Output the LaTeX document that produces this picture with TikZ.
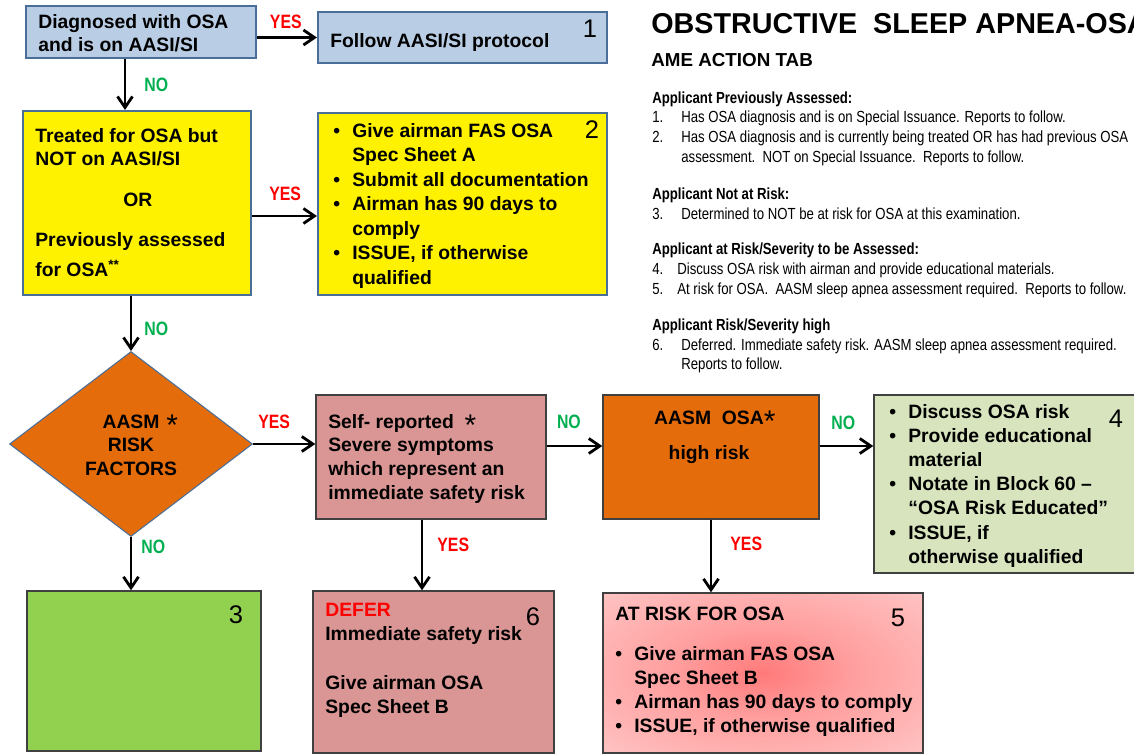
\documentclass[tikz,border=0pt]{standalone}
\usepackage{fontspec}
\setmainfont{Liberation Sans}
\newfontfamily\narrowfont[FakeStretch=0.82]{Liberation Sans}
\usetikzlibrary{arrows.meta,fit,shapes.geometric}

\definecolor{aasiblue}{HTML}{B9CDE5}
\definecolor{aasiedge}{HTML}{4A6E9A}
\definecolor{riskorange}{HTML}{E46C0A}
\definecolor{deferrose}{HTML}{D99694}
\definecolor{edusage}{HTML}{D7E4BD}
\definecolor{clearlime}{HTML}{92D050}
\definecolor{yesred}{HTML}{FF0000}
\definecolor{nogreen}{HTML}{00B050}
\definecolor{boxedge}{HTML}{404040}
\definecolor{glowcore}{HTML}{FF7A7A}
\definecolor{glowmid}{HTML}{FF9E9E}
\definecolor{glowedge}{HTML}{FFDCDC}
\pgfdeclareradialshading{atriskglow}{\pgfpointorigin}{color(0bp)=(glowcore); color(14bp)=(glowmid); color(50bp)=(glowedge)}

\newcommand{\boxlines}[2][l]{\begin{tabular}[t]{@{}#1@{}}#2\end{tabular}}
\newcommand{\dotitem}{\makebox[0.38cm][l]{\textbullet}}
\newcommand{\dotgap}{\hspace*{0.38cm}}
\newcommand{\noteno}[2][0.58cm]{\makebox[#1][l]{#2}}
\newcommand{\riskmark}{\raisebox{-0.14cm}{\mdseries\fontsize{17}{17}\selectfont *}}

\tikzset{
	flowbox/.style={draw=boxedge, line width=0.8pt, inner sep=0pt},
	aasibox/.style={flowbox, draw=aasiedge, line width=1.2pt, fill=aasiblue},
	treatbox/.style={flowbox, draw=aasiedge, line width=1.2pt, fill=yellow},
	riskdiamond/.style={diamond, draw=aasiedge, line width=0.6pt, fill=riskorange, inner sep=0pt, minimum width=4.86cm, minimum height=3.7cm},
	boxtxt/.style={font=\fontsize{11}{13.6}\selectfont\bfseries, inner sep=0pt, anchor=base west},
	notetxt/.style={font=\narrowfont\fontsize{9.15}{11.3}\selectfont, inner sep=0pt, anchor=base west},
	blockno/.style={font=\fontsize{14.5}{14.5}\selectfont, inner sep=0pt},
	yeslbl/.style={font=\narrowfont\bfseries\fontsize{11}{11}\selectfont, text=yesred, inner sep=0pt},
	nolbl/.style={font=\narrowfont\bfseries\fontsize{11}{11}\selectfont, text=nogreen, inner sep=0pt},
	link/.style={draw=black, line width=1.6pt, -{Straight Barb[length=0.22cm, width=0.3cm]}}
}

\begin{document}
\begin{tikzpicture}[x=0.02cm, y=-0.02cm]
			%%%%% START %%%%%
			\useasboundingbox (0, 0) rectangle (1134, 754);
			\clip (0, 0) rectangle (1134, 754);
			\fill[white] (0, 0) rectangle (1134, 754);
			
			\node[aasibox, fit={(26, 6) (256, 58)}] (diag) {};
			\node[aasibox, fit={(318, 12) (607, 63)}] (follow) {};
			\node[treatbox, fit={(23, 111) (251, 295)}] (treated) {};
			\node[treatbox, fit={(318, 113) (607, 295)}] (spec) {};
			\node[riskdiamond] (risk) at (131, 444) {};
			\node[flowbox, fill=deferrose, fit={(316, 395) (546, 519)}] (self) {};
			\node[flowbox, fill=riskorange, fit={(603, 395) (819, 519)}] (osa) {};
			\node[flowbox, fill=edusage, fit={(874, 395) (1140, 573)}] (edu) {};
			\node[flowbox, fill=clearlime, fit={(27, 591) (261, 751)}] (none) {};
			\node[flowbox, fill=deferrose, fit={(313, 591) (554, 753)}] (defer) {};
			\node[flowbox, shading=atriskglow, fit={(603, 593) (923, 753)}] (atrisk) {};
			
			\node[blockno] (blk1) at (590, 29) {1};
			\node[blockno] (blk2) at (592, 130) {2};
			\node[blockno] (blk3) at (236, 615) {3};
			\node[blockno] (blk4) at (1116, 419) {4};
			\node[blockno] (blk5) at (898, 618) {5};
			\node[blockno] (blk6) at (533, 617) {6};
			
			\node[boxtxt] (tdiag) at (38, 28) {\boxlines{Diagnosed with OSA\\and is on AASI/SI}};
			\node[boxtxt] (tfollow) at (330, 47) {Follow AASI/SI protocol};
			\node[boxtxt] (ttreated) at (35, 142) {\boxlines{Treated for OSA but\\NOT on AASI/SI\\[9.6pt]\hspace*{1.76cm}OR\\[9pt]Previously assessed\\[3.4pt]for OSA\textsuperscript{**}}};
			\node[boxtxt, font=\fontsize{11}{14}\selectfont\bfseries] (tspec) at (333, 137) {\boxlines{\dotitem Give airman FAS OSA\\\dotgap Spec Sheet A\\\dotitem Submit all documentation\\\dotitem Airman has 90 days to\\\dotgap comply\\\dotitem ISSUE, if otherwise\\\dotgap qualified}};
			\node[boxtxt, anchor=base] (trisk) at (131, 428) {\boxlines[c]{AASM\rlap{\hspace{0.14cm}\riskmark}\\RISK\\FACTORS}};
			\node[boxtxt] (tself) at (328, 428) {\boxlines{Self- reported\ \ \riskmark\\Severe symptoms\\which represent an\\immediate safety risk}};
			\node[boxtxt, anchor=base] (tosa) at (709, 424) {\boxlines[c]{AASM\ \ OSA\rlap{\riskmark}\\[6.8pt]high risk}};
			\node[boxtxt, font=\fontsize{11}{13.8}\selectfont\bfseries] (tedu) at (889, 418) {\boxlines{\dotitem Discuss OSA risk\\\dotitem Provide educational\\\dotgap material\\\dotitem Notate in Block 60 –\\\dotgap “OSA Risk Educated”\\\dotitem ISSUE, if\\\dotgap otherwise qualified}};
			\node[boxtxt, font=\fontsize{11}{13.9}\selectfont\bfseries] (tdefer) at (325, 616) {\boxlines{\textcolor{yesred}{DEFER}\\Immediate safety risk\\\\Give airman OSA\\Spec Sheet B}};
			\node[boxtxt] (tatrisk) at (615, 620) {\boxlines{AT RISK FOR OSA\\[9.6pt]\dotitem Give airman FAS OSA\\\dotgap Spec Sheet B\\\dotitem Airman has 90 days to comply\\\dotitem ISSUE, if otherwise qualified}};
			
			\draw[link] (diag.east |- follow.west) -- (follow.west) node[yeslbl, pos=.48, above=0.15cm] (yesfollow) {YES};
			\draw[link] ([xshift=-0.32cm]diag.south) -- ([xshift=-0.32cm]diag.south |- treated.north) node[nolbl, pos=.51, right=0.36cm] (notreated) {NO};
			\draw[link] ([yshift=-0.26cm]treated.east) -- ([yshift=-0.26cm]treated.east -| spec.west) node[yeslbl, pos=.51, above=0.27cm] (yesspec) {YES};
			\draw[link] (risk.north |- treated.south) -- (risk.north) node[nolbl, pos=.59, right=0.24cm] (norisk) {NO};
			\draw[link] (risk.east) -- (risk.east -| self.west) node[yeslbl, pos=.34, above=0.28cm] (yesself) {YES};
			\draw[link] ([yshift=0.22cm]self.east) -- ([yshift=0.22cm]osa.west) node[nolbl, pos=.4, above=0.32cm] (noosa) {NO};
			\draw[link] ([yshift=0.22cm]osa.east) -- ([yshift=0.22cm]osa.east -| edu.west) node[nolbl, pos=.44, above=0.3cm] (noedu) {NO};
			\draw[link] (risk.south) -- (risk.south |- none.north) node[nolbl, pos=.18, right=0.18cm] (nonone) {NO};
			\draw[link] ([xshift=-0.18cm]self.south) -- ([xshift=-0.18cm]self.south |- defer.north) node[yeslbl, pos=.36, right=0.28cm] (yesdefer) {YES};
			\draw[link] (osa.south) -- (osa.south |- atrisk.north) node[yeslbl, pos=.33, right=0.36cm] (yesatrisk) {YES};
			
			\node[font=\fontsize{16.35}{16.35}\selectfont\bfseries, inner sep=0pt, anchor=base west] (title) at (651, 33) {OBSTRUCTIVE\ \ SLEEP APNEA-OSA};
			\node[font=\fontsize{10.7}{10.7}\selectfont\bfseries, inner sep=0pt, anchor=base west] (tab) at (651, 66) {AME ACTION TAB};
			\node[notetxt] (notes) at (652, 103) {\boxlines{%
				\textbf{Applicant Previously Assessed:}\\
				\noteno{1.}Has OSA diagnosis and is on Special Issuance. Reports to follow.\\
				\noteno{2.}Has OSA diagnosis and is currently being treated OR has had previous OSA\\
				\noteno{}assessment.\ \ NOT on Special Issuance.\ \ Reports to follow.\\[9.6pt]
				\textbf{Applicant Not at Risk:}\\
				\noteno{3.}Determined to NOT be at risk for OSA at this examination.\\[9pt]
				\textbf{Applicant at Risk/Severity to be Assessed:}\\
				\noteno[0.5cm]{4.}Discuss OSA risk with airman and provide educational materials.\\
				\noteno[0.5cm]{5.}At risk for OSA.\ \ AASM sleep apnea assessment required.\ \ Reports to follow.\\[9pt]
				\textbf{Applicant Risk/Severity high}\\
				\noteno{6.}Deferred. Immediate safety risk. AASM sleep apnea assessment required.\\
				\noteno{}Reports to follow.}};
			
			%%%%% END %%%%%
\end{tikzpicture}
\end{document}
